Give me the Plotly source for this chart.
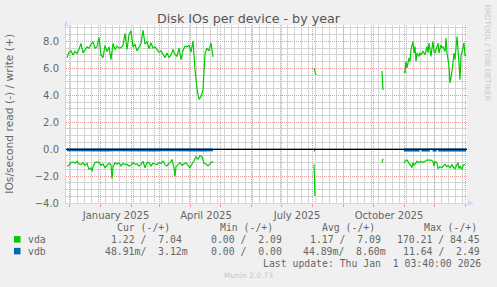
import plotly.graph_objects as go
import pandas as pd

# ---------------- data (day offsets from 2025-01-01, values in IOs/s) ----------------
BASE = "2025-01-01"

# vda write (+)
vda_write_seg1 = [(-33, 6.8), (-31, 7.2), (-29, 7.3), (-27, 7.0), (-25, 7.25), (-23, 7.1), (-21, 7.4),
                  (-19, 7.85), (-17, 7.15), (-15, 7.4), (-13, 7.6), (-11, 7.5), (-9, 7.8), (-7, 7.95),
                  (-5, 7.5), (-3, 7.6), (-1, 8.3), (1, 7.0), (3, 6.8), (5, 7.7), (7, 7.25), (9, 7.6),
                  (11, 6.65), (13, 7.85), (15, 7.4), (17, 7.65), (19, 7.5), (21, 7.55), (23, 7.7),
                  (25, 8.6), (27, 7.4), (29, 8.5), (31, 8.8), (33, 7.6), (35, 7.8), (37, 7.3),
                  (39, 7.55), (41, 7.85), (43, 8.85), (45, 7.8), (47, 8.0), (49, 7.45), (51, 7.9),
                  (53, 7.5), (55, 7.6), (57, 7.4), (59, 7.2), (61, 7.3), (63, 7.05), (65, 6.8),
                  (67, 7.15), (69, 6.8), (71, 7.0), (73, 7.4), (75, 7.0), (77, 6.9), (79, 7.5),
                  (81, 6.65), (83, 7.35), (85, 7.65), (87, 7.6), (89, 7.7), (91, 7.2), (93, 8.05),
                  (95, 5.9), (97, 4.5), (99, 3.7), (101, 3.9), (103, 4.4), (104, 5.9), (105, 7.1),
                  (107, 7.5), (109, 7.3), (111, 7.9), (113, 6.85)]
vda_write_seg2 = [(214, 6.0), (216, 5.5)]
vda_write_seg3 = [(282, 5.8), (283, 4.4)]
vda_write_seg4 = [(304, 5.78), (305, 5.66), (306, 6.52), (307, 6.03), (309, 6.77), (310, 6.52),
                  (311, 7.38), (313, 8.0), (314, 7.14), (315, 7.63), (316, 6.52), (317, 7.14),
                  (319, 6.89), (320, 7.14), (321, 7.0), (323, 7.26), (324, 7.14), (325, 7.0),
                  (327, 7.63), (328, 7.14), (329, 7.88), (331, 6.89), (332, 7.51), (333, 8.0),
                  (334, 7.26), (335, 7.14), (337, 7.63), (338, 7.88), (339, 7.14), (341, 7.75),
                  (342, 7.51), (343, 7.6), (345, 7.26), (346, 8.25), (347, 7.14), (349, 6.15),
                  (350, 4.92), (351, 5.29), (353, 6.4), (354, 7.14), (355, 6.64), (357, 8.37),
                  (359, 6.4), (360, 5.16), (361, 6.9), (363, 7.75), (364, 7.9), (365, 6.9), (366, 7.0)]

# vda read (-), plotted negative
vda_read_seg1 = [(-33, -1.26), (-31, -1.2), (-29, -1.0), (-27, -0.95), (-25, -1.05), (-23, -0.9),
                 (-21, -1.1), (-19, -1.15), (-17, -1.0), (-15, -1.2), (-13, -1.05), (-11, -1.5),
                 (-9, -1.4), (-8, -1.65), (-7, -1.3), (-5, -1.0), (-3, -0.95), (-1, -1.0), (1, -1.2),
                 (3, -1.1), (5, -1.38), (7, -1.25), (9, -1.05), (11, -1.15), (12, -2.2), (13, -1.3),
                 (15, -1.0), (17, -1.12), (19, -1.0), (21, -1.25), (23, -1.05), (25, -1.15),
                 (27, -1.12), (29, -1.25), (31, -1.2), (33, -1.0), (35, -1.12), (37, -1.1),
                 (39, -1.25), (41, -1.15), (43, -0.9), (45, -1.38), (47, -1.0), (49, -0.98),
                 (51, -1.25), (53, -1.05), (55, -1.1), (57, -1.15), (59, -1.0), (61, -1.05),
                 (63, -0.9), (65, -1.15), (67, -1.25), (69, -1.05), (71, -0.95), (72, -0.76),
                 (74, -1.4), (75, -2.0), (76, -1.3), (78, -1.12), (80, -1.0), (82, -1.2),
                 (84, -1.12), (86, -1.0), (88, -1.2), (90, -1.38), (92, -1.1), (94, -0.88),
                 (96, -0.55), (98, -0.75), (100, -0.48), (102, -0.55), (104, -1.05), (106, -1.1),
                 (108, -1.25), (110, -1.1), (112, -0.92), (113, -1.0)]
vda_read_seg2 = [(214, -1.13), (215, -3.48)]
vda_read_seg3 = [(282, -1.0), (283, -0.7)]
vda_read_seg4 = [(304, -1.0), (305, -0.9), (307, -0.81), (308, -0.9), (310, -1.13), (312, -1.38),
                 (313, -1.0), (314, -1.2), (316, -1.0), (317, -0.9), (319, -1.0), (321, -0.91),
                 (323, -1.0), (325, -0.91), (327, -0.81), (329, -0.82), (331, -0.81), (333, -0.9),
                 (334, -1.26), (335, -0.91), (337, -1.0), (338, -1.45), (340, -1.31), (342, -1.38),
                 (343, -1.26), (345, -1.13), (347, -1.31), (348, -1.21), (350, -1.38), (352, -1.13),
                 (353, -1.31), (355, -1.45), (357, -1.13), (358, -1.0), (359, -1.45), (360, -1.26),
                 (362, -1.5), (363, -1.21), (365, -1.13)]

# vdb read (-) and write (+): tiny values hugging zero
vdb_read_seg1 = [(-33, -0.1), (-25, -0.11), (-17, -0.1), (-9, -0.11), (-1, -0.1), (7, -0.11),
                 (15, -0.1), (23, -0.11), (31, -0.1), (39, -0.11), (47, -0.1), (55, -0.11),
                 (63, -0.1), (71, -0.11), (79, -0.1), (87, -0.11), (95, -0.1), (103, -0.11), (113, -0.1)]
vdb_read_seg2 = [(214, -0.1), (215, -0.11)]
vdb_read_seg3 = [(304, -0.12), (310, -0.13), (316, -0.12), (319.6, -0.12)]
vdb_read_seg4 = [(321.4, -0.12), (326, -0.13), (329.8, -0.12)]
vdb_read_seg5 = [(332.6, -0.12), (336.6, -0.12)]
vdb_read_seg6 = [(338.2, -0.12), (345, -0.13), (352, -0.12), (359, -0.13), (366, -0.12)]
vdb_write_seg1 = [(-33, 0.004), (40, 0.003), (113, 0.004)]
vdb_write_seg2 = [(304, 0.008), (335, 0.009), (366, 0.008)]

month_labels = {"2025-01-01": "January 2025", "2025-04-01": "April 2025",
                "2025-07-01": "July 2025", "2025-10-01": "October 2025"}

legend_header = ["Cur (-/+)", "Min (-/+)", "Avg (-/+)", "Max (-/+)"]
legend_rows = [
    ("vda", "#00CC00", ["1.22 /  7.04", "0.00 /  2.09", "1.17 /  7.09", "170.21 / 84.45"]),
    ("vdb", "#0066B3", ["48.91m/  3.12m", "0.00 /  0.00", "44.89m/  8.60m", "11.64 /  2.49"]),
]
last_update = "Last update: Thu Jan  1 03:40:00 2026"

# ---------------- helpers ----------------
base = pd.Timestamp(BASE)


def build(segments):
    xs, ys = [], []
    for seg in segments:
        if xs:
            xs.append(None)
            ys.append(None)
        for d, v in seg:
            xs.append(base + pd.Timedelta(days=d))
            ys.append(v)
    return xs, ys


W, H = 497, 287
ML, MR, MT, MB = 66, 30, 25, 83.5
PW, PH = W - ML - MR, H - MT - MB
YMIN, YMAX = -4, 9.2222


def px(x):
    return (x - ML) / PW


def py(y):
    return (H - MB - y) / PH


FONT = "DejaVu Sans"
MONO = "DejaVu Sans Mono"
TXT = "#666666"
MGRID = "#EE9A9A"
GRID = "#D4D4D4"
AXIS = "#CFD6F8"

fig = go.Figure()

x, y = build([vdb_write_seg1, vdb_write_seg2])
fig.add_trace(go.Scatter(x=x, y=y, mode="lines", line=dict(color="#0066B3", width=1), showlegend=False))
x, y = build([vdb_read_seg1, vdb_read_seg2, vdb_read_seg3, vdb_read_seg4, vdb_read_seg5, vdb_read_seg6])
fig.add_trace(go.Scatter(x=x, y=y, mode="lines", line=dict(color="#0066B3", width=1.6), showlegend=False))
x, y = build([vda_read_seg1, vda_read_seg2, vda_read_seg3, vda_read_seg4])
fig.add_trace(go.Scatter(x=x, y=y, mode="lines", line=dict(color="#00CC00", width=1.2), showlegend=False))
x, y = build([vda_write_seg1, vda_write_seg2, vda_write_seg3, vda_write_seg4])
fig.add_trace(go.Scatter(x=x, y=y, mode="lines", line=dict(color="#00CC00", width=1.2), showlegend=False))

month_starts = pd.date_range("2024-12-01", "2026-01-01", freq="MS")
tickvals = list(month_starts)
ticktext = [month_labels.get(m.strftime("%Y-%m-%d"), " ") for m in month_starts]

fig.update_xaxes(
    type="date",
    range=[base - pd.Timedelta(days=34), base + pd.Timedelta(days=367)],
    tickmode="array", tickvals=tickvals, ticktext=ticktext, ticklabelshift=16, tickangle=0,
    showgrid=True, gridcolor=MGRID, griddash="1px,1px", gridwidth=1,
    ticks="outside", ticklen=3, tickcolor=MGRID,
    tickfont=dict(family=FONT, size=10, color=TXT),
    showline=True, linecolor=AXIS, linewidth=1, zeroline=False,
    minor=dict(tickmode="linear", tick0="2024-12-02", dtick=7 * 86400000,
               showgrid=True, gridcolor=GRID, griddash="solid", gridwidth=1, ticks=""),
)
fig.update_yaxes(
    range=[YMIN, YMAX], tickmode="linear", tick0=0, dtick=2, tickformat=".1f",
    showgrid=True, gridcolor=MGRID, griddash="1px,1px", gridwidth=1,
    zeroline=True, zerolinecolor="#000000", zerolinewidth=1,
    ticks="outside", ticklen=4, tickcolor="rgba(0,0,0,0)",
    tickfont=dict(family=FONT, size=10, color=TXT),
    showline=True, linecolor=AXIS, linewidth=1,
    minor=dict(dtick=0.5, showgrid=True, gridcolor=GRID, griddash="solid", gridwidth=1, ticks=""),
)

shapes = [
    # zero rule drawn on top (rrdtool HRULE)
    dict(type="line", xref="paper", yref="y", x0=0, x1=1, y0=0, y1=0, layer="above",
         line=dict(color="#000000", width=1)),
    # axis arrows
    dict(type="line", xref="paper", yref="paper", x0=0, x1=0, y0=1, y1=py(24), line=dict(color=AXIS, width=1)),
    dict(type="path", xref="paper", yref="paper",
         path=f"M {px(63.5)},{py(26.5)} L {px(68.5)},{py(26.5)} L {px(66)},{py(20.5)} Z",
         fillcolor=AXIS, line=dict(width=0)),
    dict(type="line", xref="paper", yref="paper", x0=1, x1=px(469), y0=0, y1=0, line=dict(color=AXIS, width=1)),
    dict(type="path", xref="paper", yref="paper",
         path=f"M {px(468)},{py(201)} L {px(468)},{py(206.4)} L {px(474)},{py(203.7)} Z",
         fillcolor=AXIS, line=dict(width=0)),
]

ann = []
ann.append(dict(text="Disk IOs per device - by year", xref="paper", yref="paper",
                x=px(248.5), y=py(18), xanchor="center", yanchor="middle", showarrow=False,
                font=dict(family=FONT, size=12.7, color="#555555")))
ann.append(dict(text="IOs/second read (-) / write (+)", xref="paper", yref="paper",
                x=px(10), y=py(114), xanchor="center", yanchor="middle", textangle=-90,
                showarrow=False, font=dict(family=FONT, size=10.7, color=TXT)))
ann.append(dict(text="RRDTOOL / TOBI OETIKER", xref="paper", yref="paper",
                x=px(487.5), y=py(53), xanchor="center", yanchor="middle", textangle=90,
                showarrow=False, font=dict(family=FONT, size=7.5, color="#C8C8C8")))

col_header_x = [116, 218.7, 321, 422.7]
for txt, cx in zip(legend_header, col_header_x):
    ann.append(dict(text=txt.replace(" ", "&nbsp;"), xref="paper", yref="paper", x=px(cx - 0.7), y=py(228),
                    xanchor="left", yanchor="middle", showarrow=False,
                    font=dict(family=MONO, size=9.8, color=TXT)))

row_y = [240, 251.8]
row_value_x = [[110, 209.3, 308.3, 395.7], [104, 209.3, 301.7, 401.7]]
for (name, color, vals), ry, xs_ in zip(legend_rows, row_y, row_value_x):
    shapes.append(dict(type="rect", xref="paper", yref="paper",
                       x0=px(14), x1=px(20.5), y0=py(ry - 3.3), y1=py(ry + 3.2),
                       fillcolor=color, line=dict(width=0)))
    ann.append(dict(text=name, xref="paper", yref="paper", x=px(26.2), y=py(ry),
                    xanchor="left", yanchor="middle", showarrow=False,
                    font=dict(family=MONO, size=9.8, color=TXT)))
    for v, vx in zip(vals, xs_):
        ann.append(dict(text=v.replace(" ", "&nbsp;"), xref="paper", yref="paper", x=px(vx - 0.7), y=py(ry),
                        xanchor="left", yanchor="middle", showarrow=False,
                        font=dict(family=MONO, size=9.8, color=TXT)))

ann.append(dict(text=last_update.replace(" ", "&nbsp;"), xref="paper", yref="paper", x=px(483), y=py(263.7),
                xanchor="right", yanchor="middle", showarrow=False,
                font=dict(family=MONO, size=9.8, color=TXT)))
ann.append(dict(text="Munin 2.0.73", xref="paper", yref="paper", x=px(248), y=py(276),
                xanchor="center", yanchor="middle", showarrow=False,
                font=dict(family=FONT, size=7.5, color="#C8C8C8")))

fig.update_layout(
    width=W, height=H, autosize=False,
    margin=dict(l=ML, r=MR, t=MT, b=MB, pad=0),
    paper_bgcolor="#F0F0F0", plot_bgcolor="#FFFFFF",
    showlegend=False, shapes=shapes, annotations=ann,
    font=dict(family=FONT, color=TXT),
)

fig.write_html("out.html")
